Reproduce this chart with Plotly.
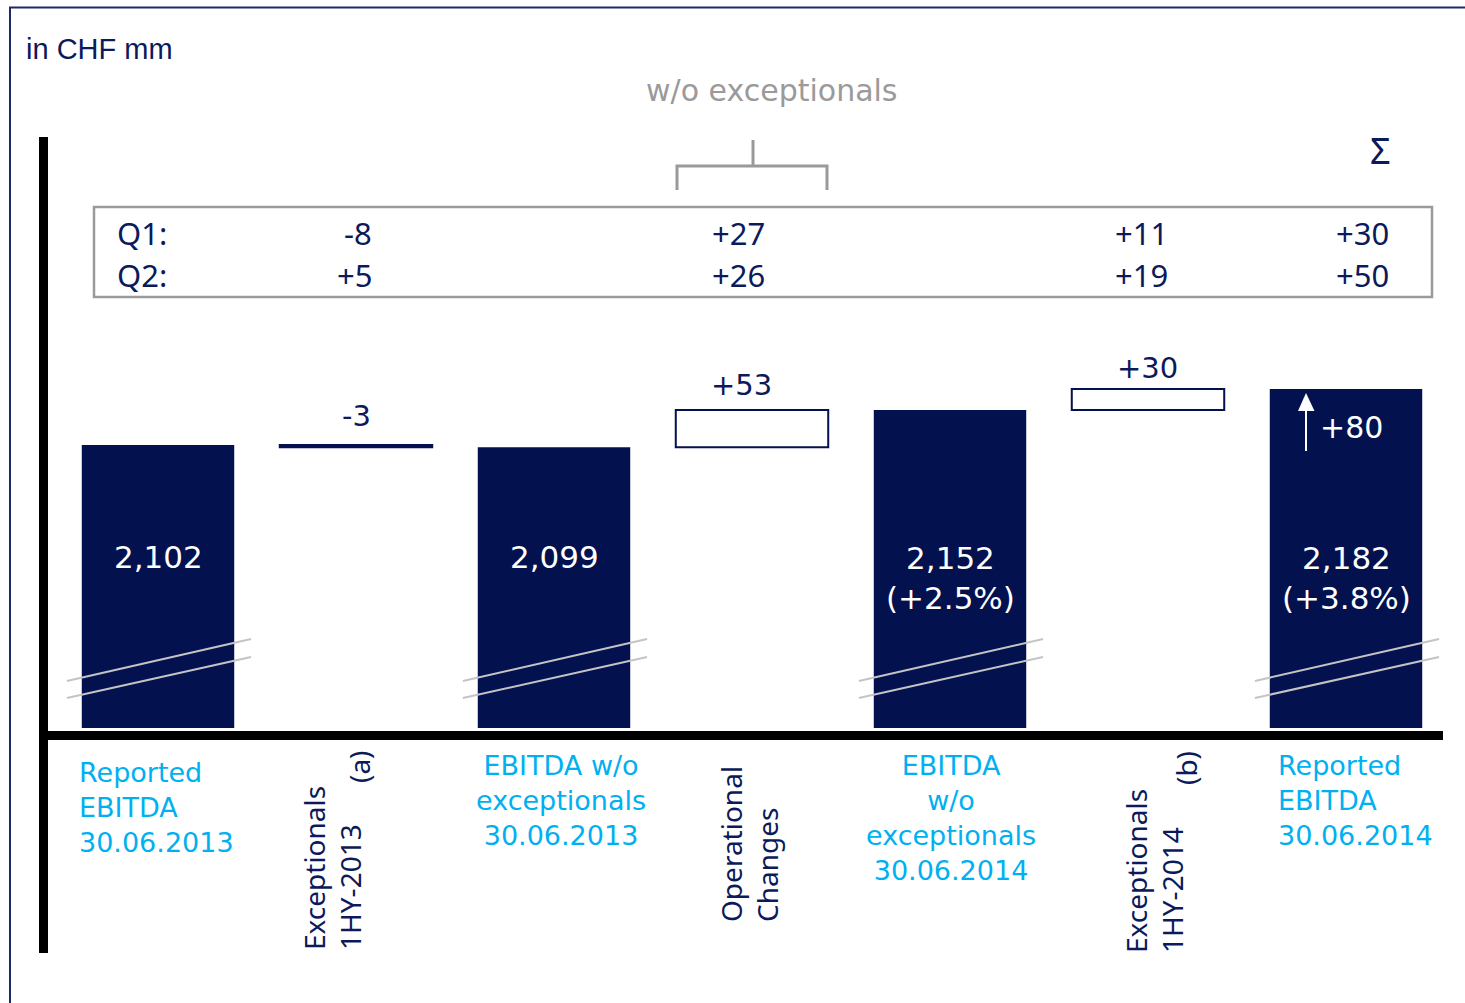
import plotly.graph_objects as go

# ---------------------------------------------------------------- data
total_idx = [0, 2, 4, 6]
total_values = [2102, 2099, 2152, 2182]
total_labels = [
    "Reported<br>EBITDA<br>30.06.2013",
    "EBITDA w/o<br>exceptionals<br>30.06.2013",
    "EBITDA<br>w/o<br>exceptionals<br>30.06.2014",
    "Reported<br>EBITDA<br>30.06.2014",
]

delta_idx = [1, 3, 5]
delta_values = [-3, 53, 30]
delta_labels = ["Exceptionals<br>1HY-2013", "Operational<br>Changes", "Exceptionals<br>1HY-2014"]
delta_notes = ["(a)", "", "(b)"]

quarter_names = ["Q1:", "Q2:"]
q1_values = [-8, 27, 11, 30]
q2_values = [5, 26, 19, 50]

# ---------------------------------------------------------------- style
W, H = 1465, 1003
PL, PR, PT, PB = 59, 1445, 137, 728          # plot area in pixels
Y_LO, Y_HI = 1698, 2542                      # broken value axis

NAVY = "#03124f"
TXT = "#0b1a5a"
CYAN = "#00b0f0"
GREY = "#9a9a9a"
BREAK = "#c4c4c4"
F_NUM = "DejaVu Sans"
F_CAT = "Noto Sans"


def fx(p):
    return (p - PL) / (PR - PL)


def fy(p):
    return (PB - p) / (PB - PT)


def signed(v):
    return f"{v:+d}"


fig = go.Figure()

# totals (axis starts above zero, the break marks show the cut)
fig.add_trace(go.Bar(
    x=total_idx, y=total_values, width=0.77,
    marker=dict(color=NAVY, line=dict(color=NAVY, width=0)),
    hoverinfo="skip",
))

# bridge steps floating from the preceding total
delta_base = [total_values[k] for k in range(len(delta_values))]
fig.add_trace(go.Bar(
    x=delta_idx, y=delta_values, base=delta_base, width=0.77,
    marker=dict(color=[NAVY if v < 0 else "white" for v in delta_values],
                line=dict(color=NAVY, width=2)),
    hoverinfo="skip",
))

shapes = []
ann = []

# outer frame
shapes.append(dict(type="rect", xref="paper", yref="paper",
                   x0=fx(10), x1=fx(1480), y0=fy(7.5), y1=fy(1015),
                   line=dict(color="#1c2a6b", width=2)))
# axes
shapes.append(dict(type="line", xref="paper", yref="paper",
                   x0=fx(43.5), x1=fx(43.5), y0=fy(137), y1=fy(953),
                   line=dict(color="black", width=9)))
shapes.append(dict(type="line", xref="paper", yref="paper",
                   x0=fx(39), x1=fx(1443), y0=fy(735.5), y1=fy(735.5),
                   line=dict(color="black", width=9)))

# break marks on the totals
for i in total_idx:
    for yl, yr in [(681, 639), (698, 657)]:
        shapes.append(dict(type="line", xref="x", yref="paper",
                           x0=i - 0.46, x1=i + 0.47, y0=fy(yl), y1=fy(yr),
                           line=dict(color=BREAK, width=2)))

# Q1/Q2 box
shapes.append(dict(type="rect", xref="paper", yref="paper",
                   x0=fx(94), x1=fx(1432), y0=fy(207), y1=fy(297),
                   line=dict(color=GREY, width=2.5)))

# bracket over the "w/o exceptionals" columns
bx0, bx1, bxm = fx(677), fx(827), fx(753)
shapes.append(dict(type="path", xref="paper", yref="paper",
                   path=f"M {bx0},{fy(190)} L {bx0},{fy(166)} L {bx1},{fy(166)} L {bx1},{fy(190)}",
                   line=dict(color=GREY, width=3)))
shapes.append(dict(type="line", xref="paper", yref="paper",
                   x0=bxm, x1=bxm, y0=fy(166), y1=fy(140),
                   line=dict(color=GREY, width=3)))

# up arrow inside the last total
shapes.append(dict(type="line", xref="paper", yref="paper",
                   x0=fx(1306), x1=fx(1306), y0=fy(451), y1=fy(408),
                   line=dict(color="white", width=2)))
shapes.append(dict(type="path", xref="paper", yref="paper",
                   path=f"M {fx(1298)},{fy(411)} L {fx(1306)},{fy(393)} L {fx(1314.5)},{fy(411)} Z",
                   fillcolor="white", line=dict(color="white", width=0)))

# headings
ann.append(dict(text="in CHF mm", x=fx(24), y=fy(49), xanchor="left", yanchor="middle",
                font=dict(family="Liberation Sans", size=29, color=TXT)))
ann.append(dict(text="w/o exceptionals", x=fx(772), y=fy(91), xanchor="center", yanchor="middle",
                font=dict(family=F_NUM, size=30, color=GREY)))
ann.append(dict(text="Σ", x=fx(1380), y=fy(150), xanchor="center", yanchor="middle",
                font=dict(family=F_CAT, size=36, color=TXT)))

# quarterly breakdown table
col_right = [372, 765, 1168, 1389]
row_y = [233, 275]
for r, (name, vals) in enumerate(zip(quarter_names, [q1_values, q2_values])):
    ann.append(dict(text=name, x=fx(115), y=fy(row_y[r]), xanchor="left", yanchor="middle",
                    font=dict(family=F_CAT, size=31, color=TXT)))
    for c, v in enumerate(vals):
        ann.append(dict(text=signed(v), x=fx(col_right[c] + 2), y=fy(row_y[r]),
                        xanchor="right", yanchor="middle",
                        font=dict(family=F_CAT, size=31, color=TXT)))

# values in the totals
growth_ref = {2: 1, 3: 0}
for k, (i, v) in enumerate(zip(total_idx, total_values)):
    txt = f"{v:,}"
    yc = 557
    if k in growth_ref:
        g = (v / total_values[growth_ref[k]] - 1) * 100
        txt += f"<br>({g:+.1f}%)"
        yc = 578
    ann.append(dict(text=txt, xref="x", x=i, y=fy(yc), xanchor="center", yanchor="middle",
                    font=dict(family=F_NUM, size=31, color="white")))

ann.append(dict(text=signed(total_values[-1] - total_values[0]), x=fx(1351), y=fy(427),
                xanchor="center", yanchor="middle",
                font=dict(family=F_NUM, size=30, color="white")))

# step values above the floating bars
step_label_pos = [(356, 416), (741, 385), (1147, 368)]
for v, (px, py) in zip(delta_values, step_label_pos):
    ann.append(dict(text=signed(v), x=fx(px), y=fy(py), xanchor="center", yanchor="middle",
                    font=dict(family=F_NUM, size=29, color=TXT)))

# category labels of the totals
total_label_pos = [(77, "left", 807), (561, "center", 800), (951, "center", 818), (1276, "left", 800)]
for t, (px, xa, py) in zip(total_labels, total_label_pos):
    ann.append(dict(text=t, x=fx(px), y=fy(py), xanchor=xa, yanchor="middle", align=xa,
                    font=dict(family=F_NUM, size=27, color=CYAN)))

# rotated labels of the steps
delta_label_pos = [(332, 952), (749, 924), (1154, 955)]
note_pos = [(359, 767), None, (1186, 768)]
for t, (px, py), note, npos in zip(delta_labels, delta_label_pos, delta_notes, note_pos):
    ann.append(dict(text=t, x=fx(px), y=fy(py), xanchor="center", yanchor="bottom",
                    align="left", textangle=-90,
                    font=dict(family=F_CAT, size=28, color=TXT)))
    if note:
        ann.append(dict(text=note, x=fx(npos[0]), y=fy(npos[1]), xanchor="center", yanchor="middle",
                        textangle=-90, font=dict(family=F_CAT, size=28, color=TXT)))

for a in ann:
    a.setdefault("xref", "paper")
    a.setdefault("yref", "paper")
    a["showarrow"] = False

fig.update_layout(
    width=W, height=H,
    margin=dict(l=PL, r=W - PR, t=PT, b=H - PB, pad=0),
    paper_bgcolor="white", plot_bgcolor="white",
    showlegend=False, barmode="overlay",
    xaxis=dict(range=[-0.5, 6.5], visible=False, fixedrange=True),
    yaxis=dict(range=[Y_LO, Y_HI], visible=False, fixedrange=True),
    shapes=shapes, annotations=ann,
)

fig.write_html("out.html", config={"displayModeBar": False})
